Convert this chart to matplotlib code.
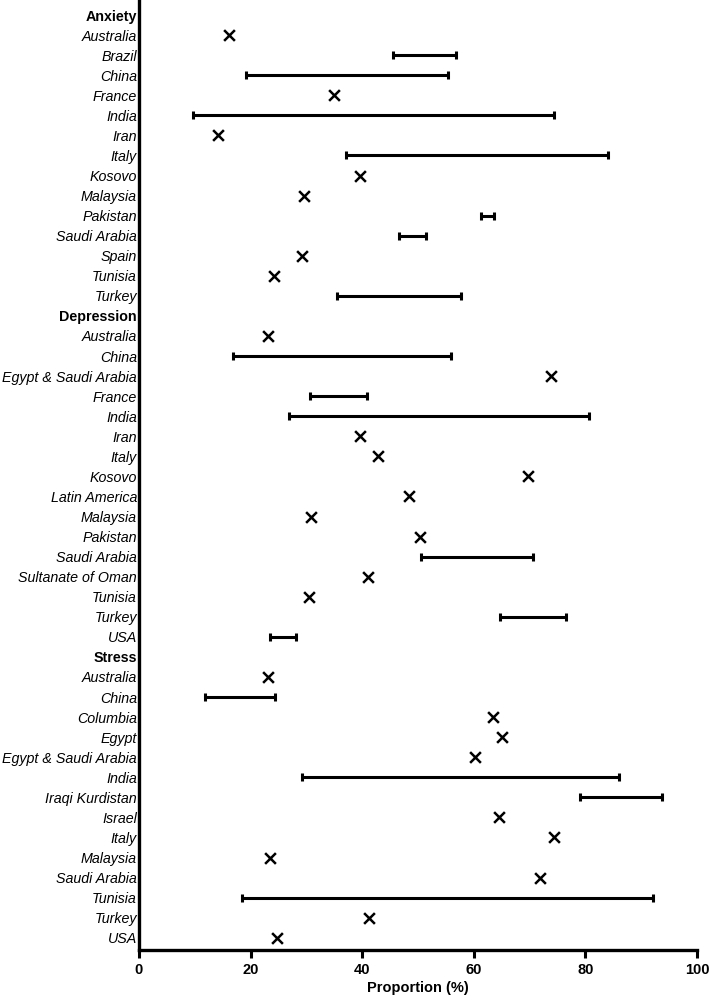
import numpy as np
import matplotlib
matplotlib.use('Agg')
import matplotlib.pyplot as plt

plt.rcParams['font.family'] = ['Liberation Sans', 'DejaVu Sans']

# ---- data (low / high proportion in %, equal values = single estimate) ----
groups = ["Anxiety", "Depression", "Stress"]

anxiety_countries = ["Australia", "Brazil", "China", "France", "India", "Iran", "Italy",
                     "Kosovo", "Malaysia", "Pakistan", "Saudi Arabia", "Spain", "Tunisia", "Turkey"]
anxiety_low = [16.1, 45.5, 19.2, 34.9, 9.7, 14.2, 37.1, 39.7, 29.6, 61.3, 46.6, 29.2, 24.2, 35.5]
anxiety_high = [16.1, 56.9, 55.3, 34.9, 74.3, 14.2, 84.1, 39.7, 29.6, 63.7, 51.5, 29.2, 24.2, 57.8]

depression_countries = ["Australia", "China", "Egypt & Saudi Arabia", "France", "India", "Iran",
                        "Italy", "Kosovo", "Latin America", "Malaysia", "Pakistan", "Saudi Arabia",
                        "Sultanate of Oman", "Tunisia", "Turkey", "USA"]
depression_low = [23.1, 16.9, 73.8, 30.6, 26.8, 39.7, 42.9, 69.8, 48.4, 30.8, 50.4, 50.5, 41.0, 30.5, 64.7, 23.4]
depression_high = [23.1, 55.9, 73.8, 40.8, 80.6, 39.7, 42.9, 69.8, 48.4, 30.8, 50.4, 70.6, 41.0, 30.5, 76.5, 28.1]

stress_countries = ["Australia", "China", "Columbia", "Egypt", "Egypt & Saudi Arabia", "India",
                    "Iraqi Kurdistan", "Israel", "Italy", "Malaysia", "Saudi Arabia", "Tunisia",
                    "Turkey", "USA"]
stress_low = [23.1, 11.8, 63.4, 65.1, 60.2, 29.2, 79.0, 64.5, 74.4, 23.5, 71.9, 18.5, 41.2, 24.7]
stress_high = [23.1, 24.3, 63.4, 65.1, 60.2, 86.0, 93.8, 64.5, 74.4, 23.5, 71.9, 92.2, 41.2, 24.7]

xticks = [0, 20, 40, 60, 80, 100]

# ---- build row list ----
labels, is_header, lows, highs = [], [], [], []
for name, countries, lo, hi in zip(groups,
                                   [anxiety_countries, depression_countries, stress_countries],
                                   [anxiety_low, depression_low, stress_low],
                                   [anxiety_high, depression_high, stress_high]):
    labels.append(name)
    is_header.append(True)
    lows.append(np.nan)
    highs.append(np.nan)
    labels += countries
    is_header += [False] * len(countries)
    lows += lo
    highs += hi

y = np.arange(len(labels))
lows = np.array(lows)
highs = np.array(highs)

fig = plt.figure(figsize=(7.09, 10), dpi=100)
ax = fig.add_axes([0.196, 0.05, 0.787, 0.95])

# single estimates
point = (~np.isnan(lows)) & (lows == highs)
ax.scatter(lows[point], y[point], marker='x', s=60, color='black', linewidths=1.8, zorder=3)

# ranges
rng = (~np.isnan(lows)) & (lows != highs)
mid = (lows[rng] + highs[rng]) / 2
half = (highs[rng] - lows[rng]) / 2
ax.errorbar(mid, y[rng], xerr=half, fmt='none', ecolor='black',
            elinewidth=2.2, capsize=3, capthick=2.2, zorder=3)

ax.set_xlim(0, 100)
ax.set_ylim(len(labels) - 0.39, -0.75)
ax.set_xticks(xticks)
ax.set_xticklabels([str(t) for t in xticks], fontweight='bold', fontsize=10.5)
ax.set_yticks(y)
ax.set_yticklabels(labels, fontsize=10.3)
for lab, hdr in zip(ax.get_yticklabels(), is_header):
    if hdr:
        lab.set_fontweight('bold')
    else:
        lab.set_fontstyle('italic')

ax.tick_params(axis='y', length=0, pad=1.5)
ax.tick_params(axis='x', length=6, width=2.2, pad=3)
for side in ['top', 'right']:
    ax.spines[side].set_visible(False)
for side in ['left', 'bottom']:
    ax.spines[side].set_linewidth(2.4)

ax.set_xlabel("Proportion (%)", fontweight='bold', fontsize=10.5, labelpad=3)

fig.savefig("out.png", dpi=100)
